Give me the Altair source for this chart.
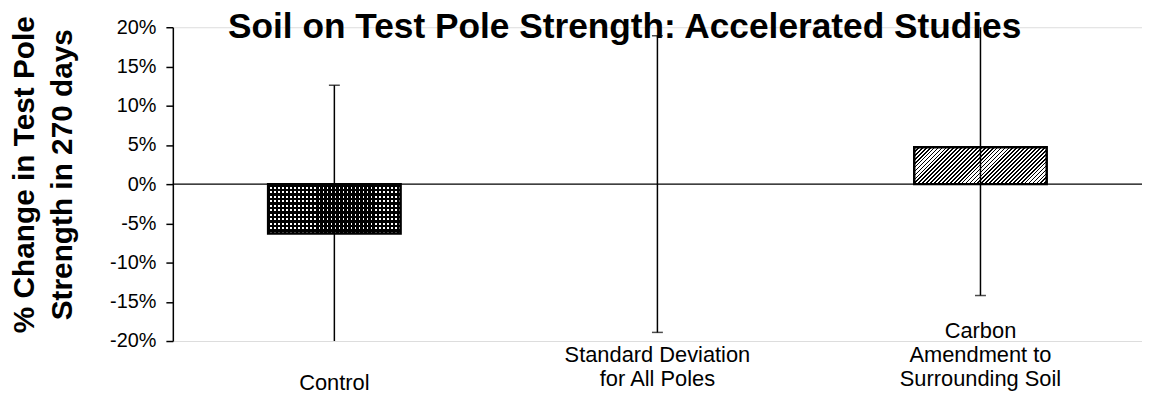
import altair as alt
import pandas as pd

# ---- data ----
categories = ["Control", "Standard Deviation|for All Poles", "Carbon|Amendment to|Surrounding Soil"]
means = [-6.3, 0.0, 4.7]          # % change in test pole strength
std_devs = [18.9, 18.9, 18.9]     # standard deviation for all poles
y_ticks = [-20, -15, -10, -5, 0, 5, 10, 15, 20]
zero_line = [0]

df = pd.DataFrame({"cat": categories, "mean": means, "sd": std_devs})
df["low"] = df["mean"] - df["sd"]
df["high"] = df["mean"] + df["sd"]

FONT = "Liberation Sans"
W, H = 976, 316
BAND_FRAC = 0.41


def stripe_stops(n, duty, ink, paper):
    """Hard-edged repeating stripes for a linear gradient (fill pattern)."""
    stops = []
    for i in range(n):
        a = i / n
        b = (i + duty) / n
        c = (i + 1) / n
        stops += [
            alt.GradientStop(offset=a, color=ink),
            alt.GradientStop(offset=b, color=ink),
            alt.GradientStop(offset=b, color=paper),
            alt.GradientStop(offset=c, color=paper),
        ]
    return stops


# diagonal "////" hatch for the carbon bar
bar_w = BAND_FRAC * W / 3
bar_h = abs(means[2]) / 40 * H
b0 = bar_h / bar_w
t = (1 + b0) / (1 + b0 * b0)
hatch = alt.LinearGradient(
    gradient="linear", x1=0, y1=0, x2=t, y2=t * b0,
    stops=stripe_stops(43, 0.45, "#000000", "#ffffff"),
)
# dotted fill for the control bar: horizontal stripes + vertical stripes overlay
rows = alt.LinearGradient(
    gradient="linear", x1=0, y1=0, x2=0, y2=1,
    stops=stripe_stops(11, 0.6, "#000000", "#ffffff"),
)
cols = alt.LinearGradient(
    gradient="linear", x1=0, y1=0, x2=1, y2=0,
    stops=stripe_stops(33, 0.55, "#000000", "rgba(255,255,255,0)"),
)

x_enc = alt.X(
    "cat:N",
    sort=categories,
    scale=alt.Scale(paddingInner=0, paddingOuter=0),
    axis=alt.Axis(
        title=None,
        labelExpr="split(datum.label, '|')",
        labelFont=FONT,
        labelFontSize=22,
        labelColor="black",
        labelBaseline="top",
        labelLineHeight=24.5,
        labelPadding={
            "condition": [
                {"test": "datum.value == '" + categories[0] + "'", "value": 32},
                {"test": "datum.value == '" + categories[1] + "'", "value": 3.5},
            ],
            "value": -21,
        },
        labelAngle=0,
        labelLimit=400,
        ticks=False,
        domain=False,
        grid=False,
    ),
)

y_scale = alt.Scale(domain=[-20, 20], nice=False, zero=False)
y_axis = alt.Axis(
    values=y_ticks,
    labelExpr="datum.value + '%'",
    labelFont=FONT,
    labelFontSize=20,
    labelColor="black",
    labelPadding=10,
    tickSize=7,
    tickColor="black",
    tickWidth=1.5,
    domainColor="black",
    domainWidth=1.5,
    grid=False,
    title=["% Change in Test Pole", "Strength in 270 days"],
    titleFont=FONT,
    titleFontSize=30,
    titleFontWeight="bold",
    titleColor="black",
    titleLineHeight=38,
    titleAngle=270,
    titleAlign="center",
    titleBaseline="middle",
    titleX=-149,
    titleY=148,
)

base = alt.Chart(df)
y_mean = alt.Y("mean:Q", scale=y_scale, axis=y_axis)

control_rows = base.transform_filter(alt.datum.cat == categories[0]).mark_bar(
    fill=rows, width=alt.RelativeBandSize(BAND_FRAC)
).encode(x=x_enc, y=y_mean)
control_cols = base.transform_filter(alt.datum.cat == categories[0]).mark_bar(
    fill=cols, stroke="black", strokeWidth=2.5, width=alt.RelativeBandSize(BAND_FRAC)
).encode(x=x_enc, y=y_mean)
carbon_bar = base.transform_filter(alt.datum.cat == categories[2]).mark_bar(
    fill=hatch, stroke="black", strokeWidth=2.5, width=alt.RelativeBandSize(BAND_FRAC)
).encode(x=x_enc, y=y_mean)

zero = alt.Chart(pd.DataFrame({"z": zero_line})).mark_rule(color="black", strokeWidth=1.5).encode(
    y=alt.Y("z:Q", scale=y_scale, axis=y_axis)
)

err = base.mark_rule(color="black", strokeWidth=1.5, clip=True).encode(
    x=x_enc,
    y=alt.Y("low:Q", scale=y_scale, axis=y_axis),
    y2="high:Q",
)

cap_low = base.mark_tick(color="black", thickness=1.5, size=11, clip=True).encode(
    x=x_enc, y=alt.Y("low:Q", scale=y_scale, axis=y_axis)
)
cap_high = base.mark_tick(color="black", thickness=1.5, size=11, clip=True).encode(
    x=x_enc, y=alt.Y("high:Q", scale=y_scale, axis=y_axis)
)

chart = alt.layer(zero, control_rows, control_cols, carbon_bar, err, cap_low, cap_high).properties(
    width=W,
    height=H,
    autosize=alt.AutoSizeParams(type="none"),
    padding={"left": 166, "top": 18, "right": 0, "bottom": 55},
    title=alt.TitleParams(
        "Soil on Test Pole Strength: Accelerated Studies",
        font=FONT,
        fontSize=35.5,
        fontWeight="bold",
        color="black",
        anchor="middle",
        frame="group",
        offset=-30,
        dx=-33,
    ),
).configure_view(stroke=None).configure(background="white")

chart.save("out.html", embed_options={"renderer": "svg", "actions": False})
